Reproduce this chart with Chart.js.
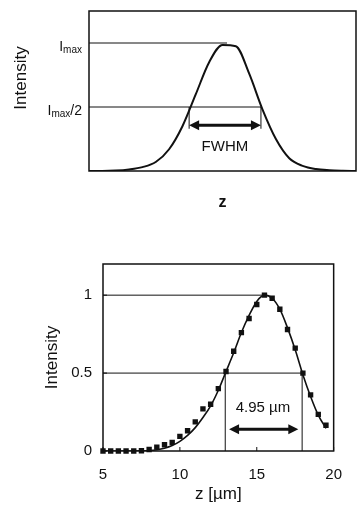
<!DOCTYPE html>
<html>
<head>
<meta charset="utf-8">
<script src="https://cdn.jsdelivr.net/npm/chart.js@4.4.1/dist/chart.umd.min.js"></script>
<style>
	html, body { margin: 0; padding: 0; background: #fff; }
	.box { position: absolute; left: 0; width: 357px; }
	#top { top: 0; height: 235px; }
	#bottom { top: 235px; height: 275px; }
</style>
</head>
<body>
<div class="box" id="top"><canvas id="profile"></canvas></div>
<div class="box" id="bottom"><canvas id="measured"></canvas></div>
<script>
// schematic profile (arbitrary z)
const schemZ = [0, 0.5, 1, 1.5, 2, 2.5, 3, 3.5, 4, 4.5, 5, 5.5, 6, 6.5, 7, 7.5, 8, 8.5, 9, 9.5, 10];
const schemI = [0, 0, 0.003, 0.012, 0.03, 0.07, 0.17, 0.35, 0.6, 0.85, 0.985, 0.975, 0.76, 0.48, 0.25, 0.1, 0.04, 0.015, 0.006, 0.002, 0];
const schemPeakZ = 5.17;
const schemHalfZ = [3.75, 6.44];
const schemLevels = [1, 0.5];
const schemLabels = [["I", "max", ""], ["I", "max", "/2"]];
const schemArrowI = 0.357;
const schemBarLow = 0.33;
const schemText = { z: 5.09, i: 0.19, text: "FWHM" };

// measured profile
const measZ = [5, 5.5, 6, 6.5, 7, 7.5, 8, 8.5, 9, 9.5, 10, 10.5, 11, 11.5, 12, 12.5, 13, 13.5, 14, 14.5, 15, 15.5, 16, 16.5, 17, 17.5, 18, 18.5, 19, 19.5];
const measI = [0, 0, 0, 0, 0, 0.002, 0.01, 0.025, 0.04, 0.055, 0.094, 0.13, 0.187, 0.27, 0.3, 0.4, 0.51, 0.64, 0.76, 0.85, 0.94, 1.0, 0.98, 0.91, 0.78, 0.66, 0.5, 0.36, 0.235, 0.165];
const fitZ = [5, 6, 7, 7.5, 8, 8.5, 9, 9.5, 10, 10.5, 11, 11.5, 12, 12.5, 13, 13.5, 14, 14.5, 15, 15.5, 16, 16.5, 17, 17.5, 18, 18.5, 19, 19.5];
const fitI = [0, 0, 0, 0.001, 0.003, 0.008, 0.018, 0.035, 0.062, 0.1, 0.15, 0.215, 0.29, 0.39, 0.51, 0.63, 0.76, 0.87, 0.96, 1.0, 0.98, 0.91, 0.79, 0.65, 0.49, 0.35, 0.23, 0.145];
const peakZ = 15.5;
const halfZ = [12.95, 17.95];
const arrowZ = [13.2, 17.7];
const arrowI = 0.14;
const fwhmText = { z: 15.4, i: 0.275, text: "4.95 µm" };
const xTicks = [5, 10, 15, 20];
const yTicks = [0, 0.5, 1];

const FONT = "'Liberation Sans', Arial, sans-serif";
const INK = "#111";

const hLine = (ctx, x1, x2, y) => {
	ctx.beginPath();
	ctx.moveTo(x1, y);
	ctx.lineTo(x2, y);
	ctx.stroke();
};
const vLine = (ctx, x, y1, y2) => {
	ctx.beginPath();
	ctx.moveTo(x, y1);
	ctx.lineTo(x, y2);
	ctx.stroke();
};
const arrow = (ctx, x1, x2, y) => {
	const len = 10, half = 5;
	ctx.lineWidth = 3;
	hLine(ctx, x1 + len - 2, x2 - len + 2, y);
	ctx.beginPath();
	ctx.moveTo(x1, y);
	ctx.lineTo(x1 + len, y - half);
	ctx.lineTo(x1 + len, y + half);
	ctx.closePath();
	ctx.fill();
	ctx.beginPath();
	ctx.moveTo(x2, y);
	ctx.lineTo(x2 - len, y - half);
	ctx.lineTo(x2 - len, y + half);
	ctx.closePath();
	ctx.fill();
};

const frame = {
	id: "frame",
	afterDatasetsDraw(chart) {
		const { ctx, chartArea: a } = chart;
		ctx.save();
		ctx.strokeStyle = INK;
		ctx.lineWidth = 1.5;
		ctx.strokeRect(a.left, a.top, a.right - a.left, a.bottom - a.top);
		ctx.restore();
	},
};

const schemGuides = {
	id: "schemGuides",
	beforeDatasetsDraw(chart) {
		const { ctx, chartArea: a, scales: { x, y } } = chart;
		ctx.save();
		ctx.strokeStyle = INK;
		ctx.fillStyle = INK;
		ctx.lineWidth = 1;
		hLine(ctx, a.left, x.getPixelForValue(schemPeakZ), y.getPixelForValue(schemLevels[0]));
		hLine(ctx, a.left, x.getPixelForValue(schemHalfZ[1]), y.getPixelForValue(schemLevels[1]));
		schemHalfZ.forEach(z => vLine(ctx, x.getPixelForValue(z), y.getPixelForValue(schemLevels[1]), y.getPixelForValue(schemBarLow)));
		arrow(ctx, x.getPixelForValue(schemHalfZ[0]), x.getPixelForValue(schemHalfZ[1]), y.getPixelForValue(schemArrowI));
		ctx.font = "15px " + FONT;
		ctx.textAlign = "center";
		ctx.textBaseline = "middle";
		ctx.fillText(schemText.text, x.getPixelForValue(schemText.z), y.getPixelForValue(schemText.i));

		// tick labels with subscript
		ctx.textAlign = "left";
		ctx.textBaseline = "alphabetic";
		schemLevels.forEach((lv, k) => {
			const [main, sub, tail] = schemLabels[k];
			const big = "14px " + FONT, small = "10px " + FONT;
			ctx.font = big;
			const w1 = ctx.measureText(main).width, w3 = ctx.measureText(tail).width;
			ctx.font = small;
			const w2 = ctx.measureText(sub).width;
			const base = y.getPixelForValue(lv) + 8;
			let px = 82 - (w1 + w2 + w3);
			ctx.font = big;
			ctx.fillText(main, px, base);
			px += w1;
			ctx.font = small;
			ctx.fillText(sub, px, base + 2);
			px += w2;
			ctx.font = big;
			ctx.fillText(tail, px, base);
		});

		// axis title
		ctx.save();
		ctx.translate(21, 78);
		ctx.rotate(-Math.PI / 2);
		ctx.font = "17px " + FONT;
		ctx.textAlign = "center";
		ctx.textBaseline = "middle";
		ctx.fillText("Intensity", 0, 0);
		ctx.restore();
		ctx.restore();
	},
};

const measGuides = {
	id: "measGuides",
	beforeDatasetsDraw(chart) {
		const { ctx, chartArea: a, scales: { x, y } } = chart;
		ctx.save();
		ctx.strokeStyle = INK;
		ctx.fillStyle = INK;
		ctx.lineWidth = 1;
		hLine(ctx, a.left, x.getPixelForValue(peakZ), y.getPixelForValue(1));
		hLine(ctx, a.left, x.getPixelForValue(halfZ[1]), y.getPixelForValue(0.5));
		halfZ.forEach(z => vLine(ctx, x.getPixelForValue(z), y.getPixelForValue(0.5), a.bottom));
		// inner ticks
		xTicks.forEach(v => vLine(ctx, x.getPixelForValue(v), a.bottom, a.bottom - 4));
		yTicks.forEach(v => hLine(ctx, a.left, a.left + 4, y.getPixelForValue(v)));
		arrow(ctx, x.getPixelForValue(arrowZ[0]), x.getPixelForValue(arrowZ[1]), y.getPixelForValue(arrowI));
		ctx.font = "15px " + FONT;
		ctx.textAlign = "center";
		ctx.textBaseline = "middle";
		ctx.fillText(fwhmText.text, x.getPixelForValue(fwhmText.z), y.getPixelForValue(fwhmText.i));
		ctx.restore();
	},
};

Chart.defaults.font.family = FONT;
Chart.defaults.color = INK;

new Chart(document.getElementById("profile"), {
	type: "line",
	data: {
		datasets: [{
			data: schemZ.map((z, k) => ({ x: z, y: schemI[k] })),
			borderColor: INK,
			borderWidth: 2,
			pointRadius: 0,
			tension: 0.4,
			cubicInterpolationMode: "monotone",
		}],
	},
	options: {
		responsive: true,
		maintainAspectRatio: false,
		animation: false,
		layout: { padding: { top: 11, right: 1, left: 0, bottom: 23 } },
		plugins: { legend: { display: false }, tooltip: { enabled: false } },
		scales: {
			x: {
				type: "linear",
				min: 0,
				max: 10,
				grid: { display: false },
				border: { display: false },
				ticks: { display: false },
				title: { display: true, text: "z", font: { size: 16, weight: "bold" }, padding: 0 },
				afterFit: s => { s.height = 41; },
			},
			y: {
				min: 0,
				max: 1.25,
				grid: { display: false },
				border: { display: false },
				ticks: { display: false },
				afterFit: s => { s.width = 89; },
			},
		},
	},
	plugins: [schemGuides, frame],
});

new Chart(document.getElementById("measured"), {
	type: "line",
	data: {
		datasets: [
			{
				data: fitZ.map((z, k) => ({ x: z, y: fitI[k] })),
				borderColor: INK,
				borderWidth: 1.6,
				pointRadius: 0,
				tension: 0.4,
				cubicInterpolationMode: "monotone",
			},
			{
				data: measZ.map((z, k) => ({ x: z, y: measI[k] })),
				showLine: false,
				pointStyle: "rect",
				pointRadius: 3.8,
				backgroundColor: INK,
				borderColor: INK,
				borderWidth: 0,
				clip: 6,
			},
		],
	},
	options: {
		responsive: true,
		maintainAspectRatio: false,
		animation: false,
		layout: { padding: { top: 29, right: 20, left: 0, bottom: 5 } },
		plugins: { legend: { display: false }, tooltip: { enabled: false } },
		scales: {
			x: {
				type: "linear",
				min: 5,
				max: 20,
				grid: { display: false, drawTicks: false },
				border: { display: false },
				afterBuildTicks: s => { s.ticks = xTicks.map(v => ({ value: v })); },
				ticks: { padding: 15, font: { size: 15 }, callback: v => String(v) },
				title: { display: true, text: "z [µm]", font: { size: 17 }, padding: 0 },
				afterFit: s => { s.height = 54; },
			},
			y: {
				min: 0,
				max: 1.2,
				grid: { display: false, drawTicks: false },
				border: { display: false },
				afterBuildTicks: s => { s.ticks = yTicks.map(v => ({ value: v })); },
				ticks: { padding: 11, font: { size: 15 }, callback: v => String(v) },
				title: { display: true, text: "Intensity", font: { size: 17 }, padding: { top: 42, bottom: 0 } },
				afterFit: s => { s.width = 103; },
			},
		},
	},
	plugins: [measGuides, frame],
});
</script>
</body>
</html>
